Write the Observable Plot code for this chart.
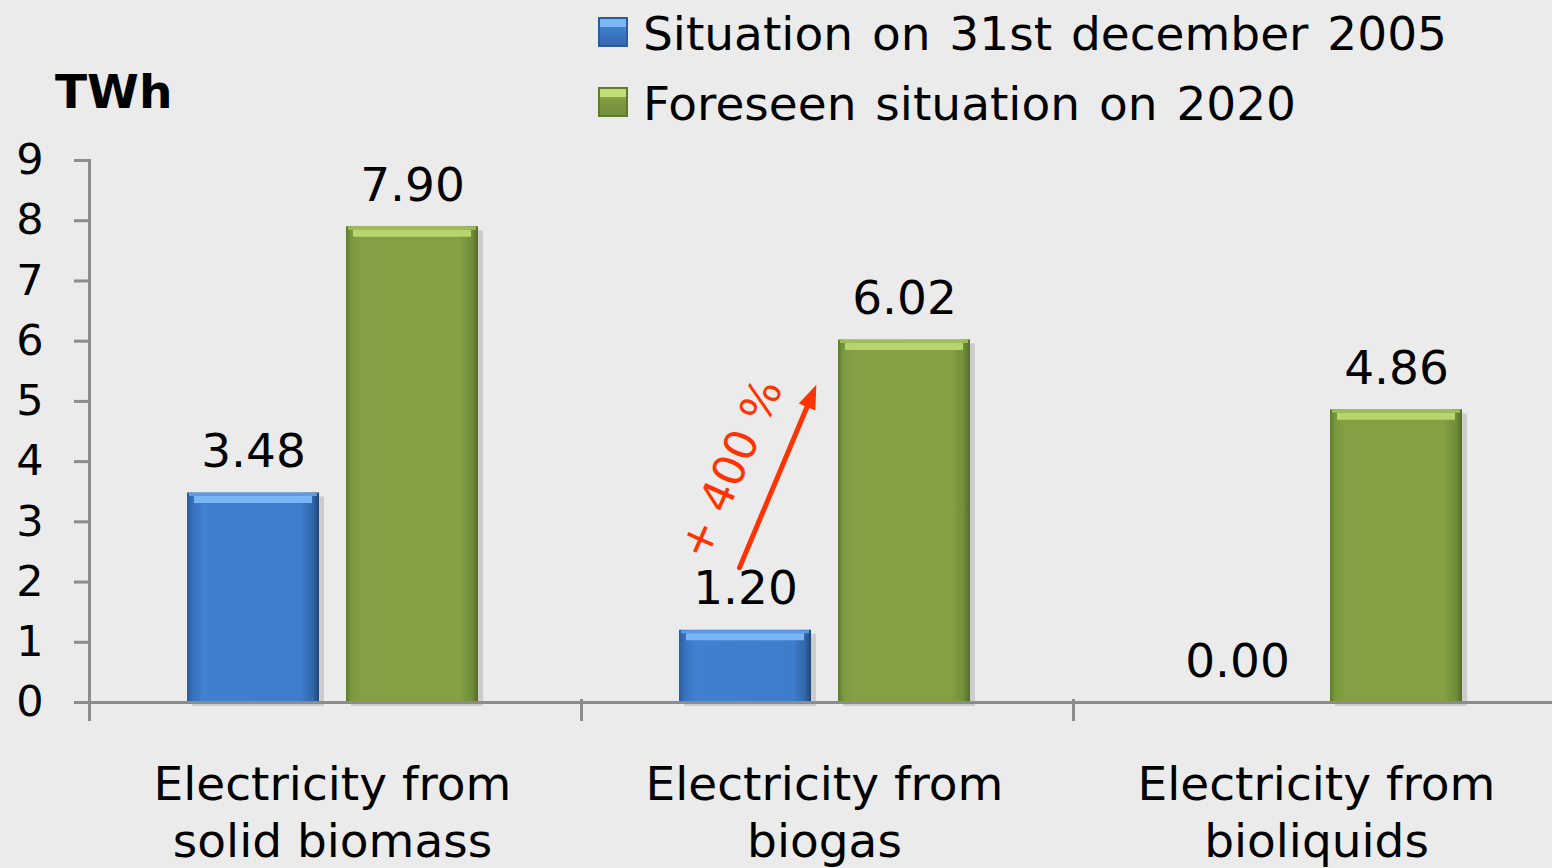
<!DOCTYPE html>
<html><head><meta charset="utf-8">
<script src="https://cdn.jsdelivr.net/npm/d3@7"></script>
<script src="https://cdn.jsdelivr.net/npm/@observablehq/plot@0.6"></script>
<style>
html,body{margin:0;padding:0;background:#ebebeb;}
body{width:1552px;height:868px;position:relative;overflow:hidden;font-family:"DejaVu Sans",Verdana,sans-serif;color:#000;}
#chart{position:absolute;left:0;top:0;}
.unit{position:absolute;left:55px;top:68px;font-size:47px;font-weight:bold;line-height:1;}
.legend{position:absolute;left:598px;top:10px;font-size:47px;line-height:1;}
.row{display:flex;align-items:flex-start;height:70px;white-space:nowrap;word-spacing:4px;}
.sw{width:30px;height:30px;margin-top:7px;margin-right:15px;box-sizing:border-box;flex:none;}
</style></head><body>
<div id="chart"></div>
<div class="unit" id="unit"></div>
<div class="legend" id="legend"></div>
<script>
// ---- data ----
const categories = ["Electricity from\nsolid biomass", "Electricity from\nbiogas", "Electricity from\nbioliquids"];
const seriesNames = ["Situation on 31st december 2005", "Foreseen situation on 2020"];
const v2005 = [3.48, 1.20, 0.00];
const v2020 = [7.90, 6.02, 4.86];
const yTicks = [0, 1, 2, 3, 4, 5, 6, 7, 8, 9];
const unitLabel = "TWh";
// annotation (growth arrow on biogas)
const annotCat = ["Electricity from\nbiogas"];
const annotFrom = [2.24];
const annotTo = [8.52];
const annotText = ["+ 400 %"];
const annotTextY = [3.88];

const table = categories.flatMap((c, i) => [
  {cat: c, series: seriesNames[0], value: v2005[i]},
  {cat: c, series: seriesNames[1], value: v2020[i]}
]);
const arrows = annotCat.map((c, i) => ({cat: c, from: seriesNames[0], to: seriesNames[1], y1: annotFrom[i], y2: annotTo[i]}));
const notes = annotCat.map((c, i) => ({cat: c, series: seriesNames[0], y: annotTextY[i], text: annotText[i]}));

const axisGray = "#8c8c8c";
const red = "#ff3300";
const chart = Plot.plot({
  width: 1552, height: 868,
  marginLeft: 88, marginRight: -13, marginTop: 160, marginBottom: 166,
  style: {background: "transparent", fontFamily: "DejaVu Sans, Verdana, sans-serif", color: "#000", overflow: "visible"},
  fx: {domain: categories, padding: 0, label: null},
  x: {domain: seriesNames, paddingInner: 0.17, paddingOuter: 0.624, align: 0.487, axis: null},
  y: {domain: [0, 9], label: null},
  color: {domain: seriesNames, range: ["url(#gBlue)", "url(#gGreen)"]},
  marks: [
    Plot.axisY({ticks: yTicks, tickSize: 15, tickPadding: 31, fontSize: 43, stroke: axisGray, strokeWidth: 3, fill: "#000", label: null}),
    Plot.axisFx({anchor: "bottom", tickSize: 0, tickPadding: 57, fontSize: 47, lineHeight: 1.21, fill: "#000", label: null, dx: -3}),
    Plot.barY(table, {fx: "cat", x: "series", y: "value", fill: "#000", fillOpacity: 0.13, dx: 5, dy: 4}),
    Plot.barY(table, {fx: "cat", x: "series", y: "value", fill: "series"}),
    Plot.tickY(table.filter(d => d.value > 0 && d.series === seriesNames[0]), {fx: "cat", x: "series", y: "value", stroke: "#5d9be4", strokeWidth: 3, dy: 1.5, insetLeft: 2, insetRight: 2}),
    Plot.tickY(table.filter(d => d.value > 0 && d.series === seriesNames[0]), {fx: "cat", x: "series", y: "value", stroke: "#79b6f3", strokeWidth: 7, dy: 6.5, insetLeft: 7, insetRight: 7}),
    Plot.tickY(table.filter(d => d.value > 0 && d.series === seriesNames[1]), {fx: "cat", x: "series", y: "value", stroke: "#9dbd58", strokeWidth: 3, dy: 1.5, insetLeft: 2, insetRight: 2}),
    Plot.tickY(table.filter(d => d.value > 0 && d.series === seriesNames[1]), {fx: "cat", x: "series", y: "value", stroke: "#b6d56e", strokeWidth: 7, dy: 6.5, insetLeft: 7, insetRight: 7}),
    Plot.ruleY([0], {stroke: axisGray, strokeWidth: 3}),
    Plot.frame({anchor: "left", facetAnchor: "left", stroke: axisGray, strokeWidth: 3, insetBottom: -17}),
    Plot.frame({anchor: "left", stroke: axisGray, strokeWidth: 3, insetTop: 540, insetBottom: -17}),
    Plot.text(table, {fx: "cat", x: "series", y: "value", text: d => d3.format(".2f")(d.value), dy: -41, fontSize: 47, fill: "#000"}),
    Plot.arrow(arrows, {fx: "cat", x1: "from", x2: "to", y1: "y1", y2: "y2", stroke: red, strokeWidth: 5, dx: -6, insetEnd: 228, headLength: 0, className: "growth-arrow"}),
    Plot.text(notes, {fx: "cat", x: "series", y: "y", text: "text", rotate: -66, fill: red, fontSize: 44, dx: -14})
  ]
});

// bevel-like gradients for bars, and a filled arrowhead marker
const svg = d3.select(chart);
const defs = svg.insert("defs", ":first-child");
function grad(id, stops) {
  const g = defs.append("linearGradient").attr("id", id)
    .attr("x1", 0).attr("x2", 1).attr("y1", 0).attr("y2", 0);
  stops.forEach(([o, c]) => g.append("stop").attr("offset", o).attr("stop-color", c));
}
grad("gBlue", [[0, "#2b5d9e"], [0.04, "#3670ba"], [0.12, "#4080d0"], [0.86, "#3e7dcc"], [0.95, "#3468ad"], [1, "#1f4778"]]);
grad("gGreen", [[0, "#5f7a2c"], [0.04, "#7a993d"], [0.12, "#84a044"], [0.86, "#83a043"], [0.95, "#718f39"], [1, "#546c27"]]);

// filled arrowhead aligned with the arrow's direction
const arrowPath = svg.select(".growth-arrow path");
if (!arrowPath.empty()) {
  const d = arrowPath.attr("d");
  const nums = d.match(/-?\d*\.?\d+(e-?\d+)?/g).map(Number);
  const x0 = nums[0], y0 = nums[1], x1 = nums[2], y1 = nums[3];
  const ang = Math.atan2(y1 - y0, x1 - x0) * 180 / Math.PI;
  const m = defs.append("marker").attr("id", "redHead")
    .attr("markerUnits", "userSpaceOnUse").attr("markerWidth", 40).attr("markerHeight", 40)
    .attr("viewBox", "-10 -20 40 40").attr("refX", 0).attr("refY", 0).attr("orient", ang)
    .attr("overflow", "visible");
  m.append("path").attr("d", "M-8,-9 L16,0 L-8,9 Z").attr("fill", red);
  arrowPath.attr("d", `M${x0},${y0}L${x1},${y1}`).attr("marker-end", "url(#redHead)");
}

document.getElementById("chart").appendChild(chart);
document.getElementById("unit").textContent = unitLabel;

const legend = document.getElementById("legend");
const swStyles = [
  "background:linear-gradient(to bottom,#7cb8f4 0,#7cb8f4 30%,#3f80d0 30%,#3468ad 100%);border:2px solid #2b5d9e;",
  "background:linear-gradient(to bottom,#c2e07a 0,#c2e07a 30%,#84a044 30%,#718f39 100%);border:2px solid #5f7a2c;"
];
seriesNames.forEach((s, i) => {
  const row = document.createElement("div");
  row.className = "row";
  const sw = document.createElement("div");
  sw.className = "sw";
  sw.style.cssText = swStyles[i];
  const t = document.createElement("span");
  t.textContent = s;
  row.appendChild(sw); row.appendChild(t);
  legend.appendChild(row);
});
</script>
</body></html>
